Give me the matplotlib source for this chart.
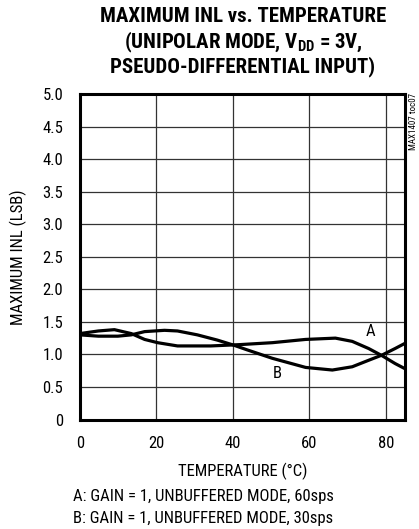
import matplotlib
matplotlib.use("Agg")
import matplotlib.pyplot as plt
from matplotlib import font_manager

temp_a = [0, 4.8, 9.0, 13.4, 16.9, 20.3, 25.5, 34.2, 41.7, 50.3, 59.0, 66.8, 71.2, 75.5, 79.0, 82.4, 85]
inl_a = [1.32, 1.36, 1.38, 1.32, 1.23, 1.18, 1.13, 1.13, 1.15, 1.18, 1.23, 1.25, 1.20, 1.09, 0.98, 0.86, 0.78]
temp_b = [0, 4.8, 9.9, 13.4, 16.9, 22.1, 25.5, 30.7, 35.9, 40.3, 43.7, 50.3, 59.0, 66.0, 71.2, 75.5, 79.0, 82.4, 85]
inl_b = [1.30, 1.28, 1.28, 1.30, 1.35, 1.37, 1.36, 1.30, 1.22, 1.14, 1.07, 0.94, 0.80, 0.76, 0.81, 0.91, 0.99, 1.09, 1.17]

x_ticks = [0, 20, 40, 60, 80]
y_ticks = [0, 0.5, 1.0, 1.5, 2.0, 2.5, 3.0, 3.5, 4.0, 4.5, 5.0]
y_labels = ["0", "0.5", "1.0", "1.5", "2.0", "2.5", "3.0", "3.5", "4.0", "4.5", "5.0"]

names = {f.name for f in font_manager.fontManager.ttflist}
fam = "DejaVu Sans"
for cand in ["Roboto Condensed", "Archivo Narrow"]:
    if cand in names:
        fam = cand
        break
plt.rcParams["font.family"] = [fam, "DejaVu Sans"]
plt.rcParams["font.stretch"] = "condensed"
plt.rcParams["mathtext.fontset"] = "custom"
plt.rcParams["mathtext.bf"] = fam + ":bold"

W, H = 419, 529
fig = plt.figure(figsize=(W / 100, H / 100), dpi=100)
ax = fig.add_axes([80 / W, (H - 419.5) / H, 325 / W, 325.5 / H])

ax.plot(temp_a, inl_a, color="black", lw=2.3, solid_capstyle="butt")
ax.plot(temp_b, inl_b, color="black", lw=2.3, solid_capstyle="butt")
ax.text(76, 1.35, "A", fontsize=12, ha="center", va="center")
ax.text(51.7, 0.71, "B", fontsize=12, ha="center", va="center")

ax.set_xlim(0, 85)
ax.set_ylim(0, 5)
ax.set_xticks(x_ticks)
ax.set_yticks(y_ticks)
ax.set_yticklabels(y_labels)
ax.tick_params(length=0, labelsize=12, pad=12)
ax.grid(True, color="#333333", lw=0.9)
ax.set_axisbelow(True)
for s in ax.spines.values():
    s.set_linewidth(2.2)

ax.set_xlabel("TEMPERATURE (°C)", fontsize=12, labelpad=8)
ax.set_ylabel("MAXIMUM INL (LSB)", fontsize=12, labelpad=11)

tkw = dict(fontsize=15, weight="bold", ha="center", va="center")
fig.text(243 / W, 1 - 17 / H, "MAXIMUM INL vs. TEMPERATURE", **tkw)
fig.text(243 / W, 1 - 42 / H, r"(UNIPOLAR MODE, V$_{\mathbf{DD}}$ = 3V,", **tkw)
fig.text(243 / W, 1 - 67 / H, "PSEUDO-DIFFERENTIAL INPUT)", **tkw)

fig.text(413 / W, 1 - 93 / H, "MAX1407 toc07", fontsize=6.5, rotation=90, ha="center", va="top")

fig.text(73 / W, 1 - 497 / H, "A: GAIN = 1, UNBUFFERED MODE, 60sps", fontsize=12, ha="left", va="center")
fig.text(73 / W, 1 - 518 / H, "B: GAIN = 1, UNBUFFERED MODE, 30sps", fontsize=12, ha="left", va="center")

fig.savefig("out.png", dpi=100)
